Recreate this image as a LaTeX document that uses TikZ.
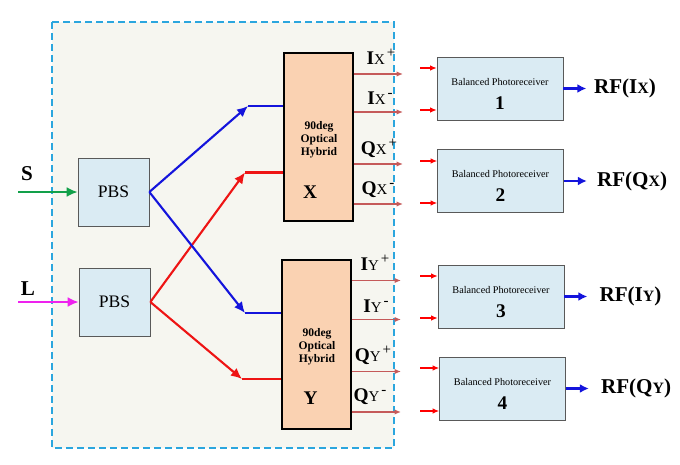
\documentclass[tikz,border=0pt]{standalone}
\usepackage{fontspec}
\setmainfont{Liberation Serif}
\usetikzlibrary{arrows.meta,positioning}

\definecolor{boxframe}{HTML}{2BA6DE}
\definecolor{boxback}{HTML}{F6F6F0}
\definecolor{pbsfill}{HTML}{DAEBF3}
\definecolor{hybfill}{HTML}{FAD2B2}
\definecolor{portred}{HTML}{C55A5A}
\definecolor{beamblue}{HTML}{1414DC}
\definecolor{beamred}{HTML}{EE1414}
\definecolor{sgreen}{HTML}{12A04A}
\definecolor{lmagenta}{HTML}{EE22EE}

\newcommand{\chan}[3]{\textbf{#1}{\fontsize{8.5}{9}\selectfont #2}\hspace{0.1em}\raisebox{0.8ex}{\fontsize{8.5}{9}\selectfont #3}}
\newcommand{\rfout}[2]{\textbf{RF(#1}{\fontsize{9}{10}\selectfont #2}\textbf{)}}

\tikzset{
  pbs/.style={draw=black!65, fill=pbsfill, minimum width=14.2mm, minimum height=13.6mm, font=\fontsize{10}{12}\selectfont},
  hybrid/.style={draw=black, fill=hybfill, line width=0.8pt, minimum width=13.8mm, minimum height=33.6mm},
  hybtext/.style={align=center, font=\bfseries\fontsize{6.6}{7.3}\selectfont},
  hyblab/.style={font=\bfseries\fontsize{11}{12}\selectfont},
  bpr/.style={draw=black!65, fill=pbsfill, minimum width=25.2mm, minimum height=12.6mm},
  bprtext/.style={font=\fontsize{5.8}{7}\selectfont},
  bprnum/.style={font=\bfseries\fontsize{11}{12}\selectfont},
  beam/.style={line width=1.2pt, -{Latex[length=2.2mm,width=2mm]}},
  port/.style={draw=portred, line width=1pt, -{Latex[length=1.3mm,width=1.1mm]}},
  feed/.style={draw=red, line width=0.6pt, -{Latex[length=1.3mm,width=1.1mm]}},
  rf/.style={draw=beamblue, line width=1.4pt, -{Latex[length=1.8mm,width=1.8mm]}},
  lab/.style={font=\bfseries\fontsize{12}{14}\selectfont},
  chanlab/.style={font=\fontsize{11}{12}\selectfont, inner sep=0pt},
}

\begin{document}
\begin{tikzpicture}[x=0.2mm, y=-0.2mm]
  \useasboundingbox (0,0) rectangle (680,465);
  % receiver frame
  \draw[boxframe, fill=boxback, line width=1.1pt, dash pattern=on 1.3mm off 0.9mm] (52,22) rectangle (394,448);

  % splitters and hybrids
  \node[pbs] (pbs1) at (113.5,192) {PBS};
  \node[pbs] (pbs2) at (114.5,302) {PBS};
  \node[hybrid] (hx) at (318.5,137) {};
  \node[hybtext] (hxt) at (319,140) {90deg\\Optical\\Hybrid};
  \node[hyblab] (hxl) at (310,192) {X};
  \node[hybrid, minimum height=33.8mm] (hy) at (316.5,344.5) {};
  \node[hybtext] (hyt) at (317,347) {90deg\\Optical\\Hybrid};
  \node[hyblab] (hyl) at (310.5,398.5) {Y};

  % inputs
  \node[lab] (s) at (27,174) {S};
  \node[lab] (l) at (28,289) {L};
  \coordinate (sin) at (18,192);
  \coordinate (lin) at (18,302);
  \draw[beam, sgreen] (sin) -- (pbs1.west);
  \draw[beam, lmagenta] (lin) -- (pbs2.west);

  % beams to the hybrids
  \coordinate (bx) at (248,106);
  \coordinate (rx) at (245,172.5);
  \coordinate (by) at (245,313);
  \coordinate (ry) at (242,379);
  \draw[beam, beamblue] (pbs1.east) -- (bx);
  \draw[beamblue, line width=1.4pt] (bx) -- (bx -| hx.west);
  \draw[beam, beamred] (pbs2.east) -- (rx);
  \draw[beamred, line width=1.4pt] (rx) -- (rx -| hx.west);
  \draw[beam, beamblue] (pbs1.east) -- (by);
  \draw[beamblue, line width=1.4pt] (by) -- (by -| hy.west);
  \draw[beam, beamred] (pbs2.east) -- (ry);
  \draw[beamred, line width=1.4pt] (ry) -- (ry -| hy.west);

  % hybrid outputs
  \coordinate (ixp) at (403,74);    \draw[port] (ixp -| hx.east) -- (ixp);
  \coordinate (ixm) at (403,112);   \draw[port] (ixm -| hx.east) -- (ixm);
  \coordinate (qxp) at (403,164);   \draw[port] (qxp -| hx.east) -- (qxp);
  \coordinate (qxm) at (403,204);   \draw[port] (qxm -| hx.east) -- (qxm);
  \coordinate (iyp) at (401,280.5); \draw[port] (iyp -| hy.east) -- (iyp);
  \coordinate (iym) at (401,319.5); \draw[port] (iym -| hy.east) -- (iym);
  \coordinate (qyp) at (401,371.5); \draw[port] (qyp -| hy.east) -- (qyp);
  \coordinate (qym) at (401,412);   \draw[port] (qym -| hy.east) -- (qym);
  \node[chanlab] (lixp) at (381,57)  {\chan{I}{X}{+}};
  \node[chanlab] (lixm) at (380,98)  {\chan{I}{X}{-}};
  \node[chanlab] (lqxp) at (379,148) {\chan{Q}{X}{+}};
  \node[chanlab] (lqxm) at (378,190) {\chan{Q}{X}{-}};
  \node[chanlab] (liyp) at (375,263) {\chan{I}{Y}{+}};
  \node[chanlab] (liym) at (376,306) {\chan{I}{Y}{-}};
  \node[chanlab] (lqyp) at (373,355) {\chan{Q}{Y}{+}};
  \node[chanlab] (lqym) at (370,397) {\chan{Q}{Y}{-}};

  % balanced photoreceivers
  \node[bpr] (bp1) at (500,88.5) {};
  \node[bprtext] (bpt1) at ([yshift=1.3mm]bp1.center) {Balanced Photoreceiver};
  \node[bprnum] (bpn1) at ([yshift=-2.9mm]bp1.center) {1};
  \node[bpr] (bp2) at (500.5,181) {};
  \node[bprtext] (bpt2) at ([yshift=1.3mm]bp2.center) {Balanced Photoreceiver};
  \node[bprnum] (bpn2) at ([yshift=-2.9mm]bp2.center) {2};
  \node[bpr] (bp3) at (501,296.5) {};
  \node[bprtext] (bpt3) at ([yshift=1.3mm]bp3.center) {Balanced Photoreceiver};
  \node[bprnum] (bpn3) at ([yshift=-2.9mm]bp3.center) {3};
  \node[bpr] (bp4) at (502.5,388.5) {};
  \node[bprtext] (bpt4) at ([yshift=1.3mm]bp4.center) {Balanced Photoreceiver};
  \node[bprnum] (bpn4) at ([yshift=-2.9mm]bp4.center) {4};

  % feeds into the receivers
  \coordinate (f1) at (420,68);  \draw[feed] (f1) -- (f1 -| bp1.west);
  \coordinate (f2) at (420,110); \draw[feed] (f2) -- (f2 -| bp1.west);
  \coordinate (f3) at (420,161); \draw[feed] (f3) -- (f3 -| bp2.west);
  \coordinate (f4) at (420,203); \draw[feed] (f4) -- (f4 -| bp2.west);
  \coordinate (f5) at (420,276); \draw[feed] (f5) -- (f5 -| bp3.west);
  \coordinate (f6) at (420,318); \draw[feed] (f6) -- (f6 -| bp3.west);
  \coordinate (f7) at (420,368); \draw[feed] (f7) -- (f7 -| bp4.west);
  \coordinate (f8) at (420,411); \draw[feed] (f8) -- (f8 -| bp4.west);

  % RF outputs
  \coordinate[right=4.6mm of bp1.east] (o1);
  \coordinate[right=4.6mm of bp2.east] (o2);
  \coordinate[right=4.6mm of bp3.east] (o3);
  \coordinate[right=4.6mm of bp4.east] (o4);
  \draw[rf] (bp1.east) -- (o1);
  \draw[rf] (bp2.east) -- (o2);
  \draw[rf] (bp3.east) -- (o3);
  \draw[rf] (bp4.east) -- (o4);
  \node[lab, right=0.3mm of o1] (rf1) {\rfout{I}{X}};
  \node[lab, right=0.8mm of o2] (rf2) {\rfout{Q}{X}};
  \node[lab, right=1.2mm of o3] (rf3) {\rfout{I}{Y}};
  \node[lab, right=1.2mm of o4] (rf4) {\rfout{Q}{Y}};
\end{tikzpicture}
\end{document}
